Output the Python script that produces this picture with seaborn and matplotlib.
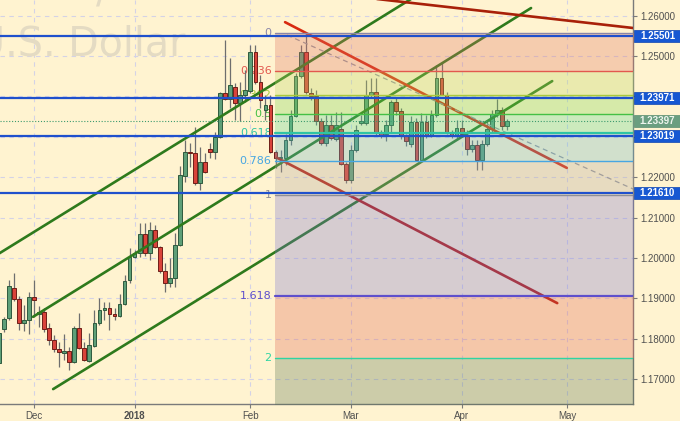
import numpy as np
import pandas as pd
import matplotlib
matplotlib.use("Agg")
import matplotlib.pyplot as plt
import seaborn as sns
from matplotlib.patches import Rectangle
from matplotlib.transforms import blended_transform_factory

# ---------------- data ----------------
opens = [
    1.1740, 1.1824, 1.1850, 1.1925, 1.1897, 1.1838, 1.1846, 1.1904, 1.1862, 1.1865,
    1.1826, 1.1797, 1.1774, 1.1764, 1.1769, 1.1743, 1.1827, 1.1778, 1.1745, 1.1782,
    1.1838, 1.1871, 1.1877, 1.1861, 1.1857, 1.1886, 1.1945, 1.2003, 1.2013, 1.2059,
    1.2013, 1.2069, 1.2028, 1.1968, 1.1937, 1.1949, 1.2032, 1.2203, 1.2263, 1.2261,
    1.2186, 1.2237, 1.2271, 1.2263, 1.2299, 1.2408, 1.2393, 1.2424, 1.2383, 1.2404,
    1.2413, 1.2511, 1.2437, 1.2367, 1.2379, 1.2262, 1.2247, 1.2248, 1.2292, 1.2351,
    1.2450, 1.2509, 1.2409, 1.2401, 1.2339, 1.2284, 1.2329, 1.2295, 1.2319, 1.2233,
    1.2193, 1.2267, 1.2334, 1.2334, 1.2404, 1.2411, 1.2309, 1.2307, 1.2329, 1.2386,
    1.2364, 1.2305, 1.2282, 1.2337, 1.2243, 1.2337, 1.2305, 1.2354, 1.2446, 1.2404,
    1.2309, 1.2305, 1.2323, 1.2305, 1.2270, 1.2280, 1.2243, 1.2283, 1.2320, 1.2357,
    1.2367, 1.2327]
highs = [
    1.1818, 1.1854, 1.1945, 1.1962, 1.1906, 1.1883, 1.1916, 1.1945, 1.1880, 1.1875,
    1.1839, 1.1809, 1.1792, 1.1811, 1.1780, 1.1832, 1.1863, 1.1792, 1.1813, 1.1871,
    1.1901, 1.1891, 1.1891, 1.1876, 1.1910, 1.1958, 1.2024, 1.2019, 1.2086, 1.2087,
    1.2090, 1.2081, 1.2029, 1.1987, 1.2000, 1.2062, 1.2228, 1.2292, 1.2284, 1.2325,
    1.2275, 1.2259, 1.2284, 1.2313, 1.2411, 1.2540, 1.2494, 1.2433, 1.2437, 1.2465,
    1.2527, 1.2527, 1.2453, 1.2404, 1.2404, 1.2267, 1.2267, 1.2306, 1.2366, 1.2457,
    1.2527, 1.2557, 1.2421, 1.2416, 1.2346, 1.2354, 1.2354, 1.2361, 1.2361, 1.2238,
    1.2280, 1.2329, 1.2354, 1.2441, 1.2446, 1.2446, 1.2317, 1.2342, 1.2391, 1.2396,
    1.2372, 1.2308, 1.2351, 1.2346, 1.2359, 1.2354, 1.2366, 1.2478, 1.2483, 1.2410,
    1.2317, 1.2342, 1.2342, 1.2317, 1.2292, 1.2292, 1.2292, 1.2342, 1.2366, 1.2394,
    1.2375, 1.2345]
lows = [
    1.1735, 1.1816, 1.1846, 1.1893, 1.1821, 1.1819, 1.1811, 1.1854, 1.1830, 1.1817,
    1.1784, 1.1768, 1.1730, 1.1747, 1.1722, 1.1740, 1.1774, 1.1745, 1.1741, 1.1780,
    1.1834, 1.1846, 1.1821, 1.1846, 1.1854, 1.1883, 1.1938, 1.2000, 1.2003, 1.2005,
    1.1995, 1.2024, 1.1962, 1.1916, 1.1929, 1.1929, 1.2029, 1.2189, 1.2226, 1.2181,
    1.2168, 1.2211, 1.2247, 1.2246, 1.2296, 1.2391, 1.2371, 1.2342, 1.2340, 1.2386,
    1.2408, 1.2432, 1.2371, 1.2342, 1.2260, 1.2222, 1.2212, 1.2229, 1.2280, 1.2348,
    1.2446, 1.2406, 1.2391, 1.2329, 1.2280, 1.2277, 1.2292, 1.2290, 1.2231, 1.2186,
    1.2186, 1.2263, 1.2329, 1.2329, 1.2398, 1.2305, 1.2297, 1.2289, 1.2312, 1.2354,
    1.2295, 1.2277, 1.2275, 1.2243, 1.2243, 1.2298, 1.2300, 1.2350, 1.2404, 1.2307,
    1.2297, 1.2295, 1.2300, 1.2256, 1.2263, 1.2218, 1.2218, 1.2278, 1.2312, 1.2349,
    1.2317, 1.2317]
closes = [
    1.1814, 1.1849, 1.1930, 1.1897, 1.1838, 1.1846, 1.1904, 1.1896, 1.1866, 1.1824,
    1.1797, 1.1774, 1.1768, 1.1770, 1.1743, 1.1827, 1.1778, 1.1747, 1.1784, 1.1838,
    1.1871, 1.1877, 1.1860, 1.1857, 1.1886, 1.1943, 1.2003, 1.2011, 1.2059, 1.2013,
    1.2069, 1.2028, 1.1968, 1.1937, 1.1949, 1.2032, 1.2205, 1.2263, 1.2259, 1.2186,
    1.2237, 1.2214, 1.2263, 1.2299, 1.2409, 1.2393, 1.2428, 1.2383, 1.2404, 1.2416,
    1.2511, 1.2437, 1.2391, 1.2379, 1.2263, 1.2248, 1.2250, 1.2292, 1.2351, 1.2450,
    1.2509, 1.2411, 1.2401, 1.2339, 1.2284, 1.2329, 1.2296, 1.2329, 1.2233, 1.2193,
    1.2267, 1.2317, 1.2339, 1.2404, 1.2411, 1.2309, 1.2305, 1.2329, 1.2386, 1.2364,
    1.2305, 1.2290, 1.2337, 1.2243, 1.2337, 1.2305, 1.2354, 1.2446, 1.2404, 1.2309,
    1.2304, 1.2323, 1.2307, 1.2270, 1.2280, 1.2243, 1.2283, 1.2320, 1.2357, 1.2367,
    1.2328, 1.2340]

tick_dates = ["2017-12-01", "2018-01-01", "2018-02-01", "2018-03-01", "2018-04-02", "2018-05-01"]
tick_labels = ["Dec", "2018", "Feb", "Mar", "Apr", "May"]

# horizontal support / resistance levels (blue) and last price
levels = [1.25501, 1.23971, 1.23019, 1.21610]
last_price = 1.23397

# Fibonacci retracement (0 = high, 1 = low), starting bar
fib_high, fib_low, fib_start = 1.2557, 1.2155, 54.9
fib_ratios = [0, 0.236, 0.382, 0.5, 0.618, 0.786, 1, 1.618, 2, 2.618]
fib_names = ["0", "0.236", "0.382", "0.5", "0.618", "0.786", "1", "1.618", "2", ""]
fib_line_colors = ["#8A86A8", "#E2584E", "#A9C93C", "#45C045", "#2EC4A4", "#48A6E2",
                   "#8E8E96", "#5E4FCC", "#2FD4A2", "#999999"]
fib_fill_colors = ["#DE7462", "#BCD862", "#7AD851", "#58D894", "#69B7C6",
                   "#B2A69B", "#7A74D0", "#DE6451", "#587451"]

# trend lines: (bar0, price0, bar1, price1)
trend_lines = [
    (-5.0, 1.1972, 85.0, 1.2665, "#2E7A1C", "-"),
    (6.8, 1.1854, 105.8, 1.2619, "#2E7A1C", "-"),
    (10.8, 1.1675, 110.0, 1.2438, "#2E7A1C", "-"),
    (40.0, 1.2691, 130.0, 1.2564, "#A82008", "-"),
    (56.9, 1.2584, 112.9, 1.2223, "#D82A10", "-"),
    (55.3, 1.2248, 111.0, 1.1888, "#B82010", "-"),
]
dash_line = (57.3, 1.2552, 130.0, 1.2149)

# ---------------- style ----------------
sns.set_style("white")
plt.rcParams["font.family"] = ["Liberation Sans", "DejaVu Sans"]
BG = "#FFF3D0"

fig = plt.figure(figsize=(6.8, 4.21), dpi=100, facecolor=BG)
ax = fig.add_axes([0, 17 / 421, 633 / 680, 404 / 421])
ax.set_facecolor(BG)

dates = pd.bdate_range("2017-11-22", "2018-06-30")
dates = dates[dates != pd.Timestamp("2017-12-25")]
n = len(opens)
df = pd.DataFrame({"date": dates[:n], "open": opens, "high": highs, "low": lows, "close": closes})
df["x"] = np.arange(n)
df["up"] = df["close"] >= df["open"]

xmin, xmax = 0.2385, 126.06
ymin, ymax = 1.16381, 1.26389

# grid
tick_pos = [int(np.where(dates == pd.Timestamp(d))[0][0]) for d in tick_dates]
yt = np.round(np.arange(1.17, 1.265, 0.01), 2)
for t in tick_pos:
    ax.axvline(t, color="#D4D2E6", lw=0.8, ls=(0, (4, 4)), zorder=0.5)
for v in yt:
    ax.axhline(v, color="#D4D2E6", lw=0.8, ls=(0, (4, 4)), zorder=0.5)

# watermark
ax.text(185 / 633, 1 - 55 / 404, "U.S. Dollar", transform=ax.transAxes, ha="right",
        va="baseline", fontsize=28.5, color="#E4DBC3", family="DejaVu Sans", zorder=0.6)
ax.text(96 / 633, 1 - 2 / 404, "/", transform=ax.transAxes, ha="left",
        va="baseline", fontsize=28.5, color="#E4DBC3", family="DejaVu Sans", zorder=0.6)

# fib labels (under candles)
fib_vals = [fib_high - r * (fib_high - fib_low) for r in fib_ratios]
for v, name, c in zip(fib_vals, fib_names, fib_line_colors):
    if name:
        ax.annotate(name, (fib_start, v), xytext=(-2.5, 0), textcoords="offset points",
                    ha="right", va="center", fontsize=8, color=c, family="DejaVu Sans",
                    zorder=1.5, annotation_clip=False)

# candles
ax.vlines(df["x"], df["low"], df["high"], color="#6E6E6E", lw=0.9, zorder=2.2)
body_lo = np.minimum(df["open"], df["close"])
body_h = np.maximum(np.abs(df["close"] - df["open"]), 0.00012)
face = np.where(df["up"], "#5E9F78", "#D9433A")
edge = np.where(df["up"], "#2F5A3E", "#6E1F18")
ax.bar(df["x"], body_h, bottom=body_lo, width=0.74, color=face, edgecolor=edge,
       linewidth=0.7, zorder=2.5)

# trend lines (seaborn)
for x0, y0, x1, y1, c, ls in trend_lines:
    sns.lineplot(x=[x0, x1], y=[y0, y1], ax=ax, color=c, lw=1.9, zorder=3,
                 linestyle=ls, estimator=None, sort=False)
sns.lineplot(x=[dash_line[0], dash_line[2]], y=[dash_line[1], dash_line[3]], ax=ax,
             color="#9A9A9A", lw=0.9, linestyle=(0, (4, 3)), zorder=3,
             estimator=None, sort=False)

# fib fills (semi-transparent, on top of candles)
for i in range(len(fib_vals) - 1):
    ax.fill_between([fib_start, xmax + 5], fib_vals[i + 1], fib_vals[i],
                    color=fib_fill_colors[i], alpha=0.3, lw=0, zorder=4)
for v, c, r in zip(fib_vals, fib_line_colors, fib_ratios):
    lw = 1.6 if r in (0.618, 1.618) else 1.0
    ax.plot([fib_start, xmax + 5], [v, v], color=c, lw=lw, zorder=4.5)

# blue levels and last price line
for v in levels:
    ax.axhline(v, color="#1F50CC", lw=1.6, zorder=4.8)
ax.axhline(last_price, color="#3C9A6E", lw=0.8, ls=(0, (1, 1.6)), zorder=4.6)

ax.set_xlim(xmin, xmax)
ax.set_ylim(ymin, ymax)

# axes styling
for s in ["left", "top"]:
    ax.spines[s].set_visible(False)
for s in ["right", "bottom"]:
    ax.spines[s].set_color("#7A7A7A")
    ax.spines[s].set_linewidth(1.0)
ax.yaxis.tick_right()
ax.set_yticks(yt)
ax.set_yticklabels(["" if v in (1.23, 1.24) else f"{v:.5f}" for v in yt])
ax.set_xticks(tick_pos)
ax.set_xticklabels(tick_labels)
for lab in ax.get_xticklabels():
    if lab.get_text() == "2018":
        lab.set_fontweight("bold")
ax.tick_params(axis="y", right=True, length=3, width=0.8, color="#7A7A7A",
               pad=2.5, labelsize=7, labelcolor="#505050")
ax.tick_params(axis="x", bottom=True, length=3, width=0.8, color="#7A7A7A",
               pad=2, labelsize=7, labelcolor="#505050")
ax.set_xlabel("")
ax.set_ylabel("")
if ax.get_legend():
    ax.get_legend().remove()

# price boxes on the right axis
tr = blended_transform_factory(fig.transFigure, ax.transData)
box_h = 12 / 4037
for v in levels:
    fig.add_artist(Rectangle((634 / 680, v - box_h / 2), 46 / 680, box_h, transform=tr,
                             fc="#1657D2", ec="#0E44B0", lw=0.5, zorder=10))
    fig.text(657.5 / 680, v, f"{v:.5f}", transform=tr, ha="center", va="center",
             fontsize=7, fontweight="bold", color="white", zorder=11)
fig.add_artist(Rectangle((634 / 680, last_price - box_h / 2), 46 / 680, box_h, transform=tr,
                         fc="#6A9E80", ec="#5A8E70", lw=0.5, zorder=10))
fig.text(657.5 / 680, last_price, f"{last_price:.5f}", transform=tr, ha="center",
         va="center", fontsize=7, fontweight="bold", color="#EEF5EE", zorder=11)

fig.savefig("out.png", dpi=100, facecolor=BG)
